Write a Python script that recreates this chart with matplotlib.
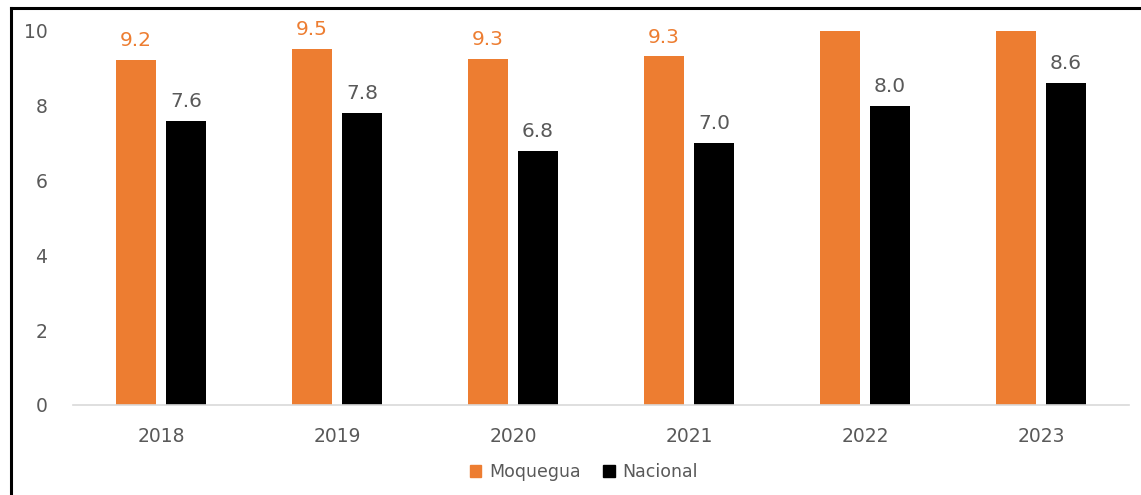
import matplotlib
matplotlib.use("Agg")
import matplotlib.pyplot as plt
from matplotlib.lines import Line2D
from matplotlib.patches import Patch
import numpy as np

plt.rcParams['font.family'] = ['DejaVu Sans']

years = ["2018", "2019", "2020", "2021", "2022", "2023"]
moquegua = [9.22, 9.52, 9.26, 9.32, 10.4, 10.6]
nacional = [7.6, 7.8, 6.8, 7.0, 8.0, 8.6]
series_names = ["Moquegua", "Nacional"]

ORANGE = "#ED7D31"
BLACK = "#000000"
GRAY = "#595959"

W, H = 1141, 495
fig = plt.figure(figsize=(W / 100, H / 100), dpi=100)
ax = fig.add_axes([73 / W, 1 - 405 / H, (1129 - 73) / W, (405 - 31) / H])

x = np.arange(len(years))
bw = 0.227
off = 0.142
ax.bar(x - off, moquegua, bw, color=ORANGE, label=series_names[0])
ax.bar(x + off, nacional, bw, color=BLACK, label=series_names[1])

ax.set_ylim(0, 10)
ax.set_xlim(-0.5, len(years) - 0.5)
ax.set_yticks([0, 2, 4, 6, 8, 10])
ax.set_xticks(x)
ax.set_xticklabels(years)
ax.tick_params(axis='y', length=0, pad=18.5, labelsize=13.5, labelcolor=GRAY)
ax.tick_params(axis='x', length=0, pad=16, labelsize=13.5, labelcolor=GRAY)
for s in ['top', 'right', 'left']:
    ax.spines[s].set_visible(False)
ax.spines['bottom'].set_color("#D9D9D9")
ax.spines['bottom'].set_linewidth(1.2)

for xi, v in zip(x - off, moquegua):
    if v <= 10:
        ax.annotate(f"{v:.1f}", (xi, v), xytext=(0, 10), textcoords="offset points",
                    ha="center", va="baseline", fontsize=14.5, color=ORANGE)
for xi, v in zip(x + off, nacional):
    if v <= 10:
        ax.annotate(f"{v:.1f}", (xi, v), xytext=(0, 10), textcoords="offset points",
                    ha="center", va="baseline", fontsize=14.5, color=GRAY)

handles = [Patch(color=ORANGE, label=series_names[0]), Patch(color=BLACK, label=series_names[1])]
leg = fig.legend(handles=handles, loc="center", bbox_to_anchor=(584 / W, 1 - 472 / H),
                 ncol=2, frameon=False, fontsize=12.5, handlelength=0.65, handleheight=0.65,
                 handletextpad=0.45, columnspacing=1.3)
for t in leg.get_texts():
    t.set_color(GRAY)

# outer border (top and left only, as in the cropped screenshot)
fig.add_artist(Line2D([11 / W, 1.0], [1 - 8 / H, 1 - 8 / H], transform=fig.transFigure,
                      color="black", linewidth=2.2))
fig.add_artist(Line2D([11 / W, 11 / W], [0, 1 - 8 / H], transform=fig.transFigure,
                      color="black", linewidth=2.2))

fig.savefig("out.png", dpi=100)
